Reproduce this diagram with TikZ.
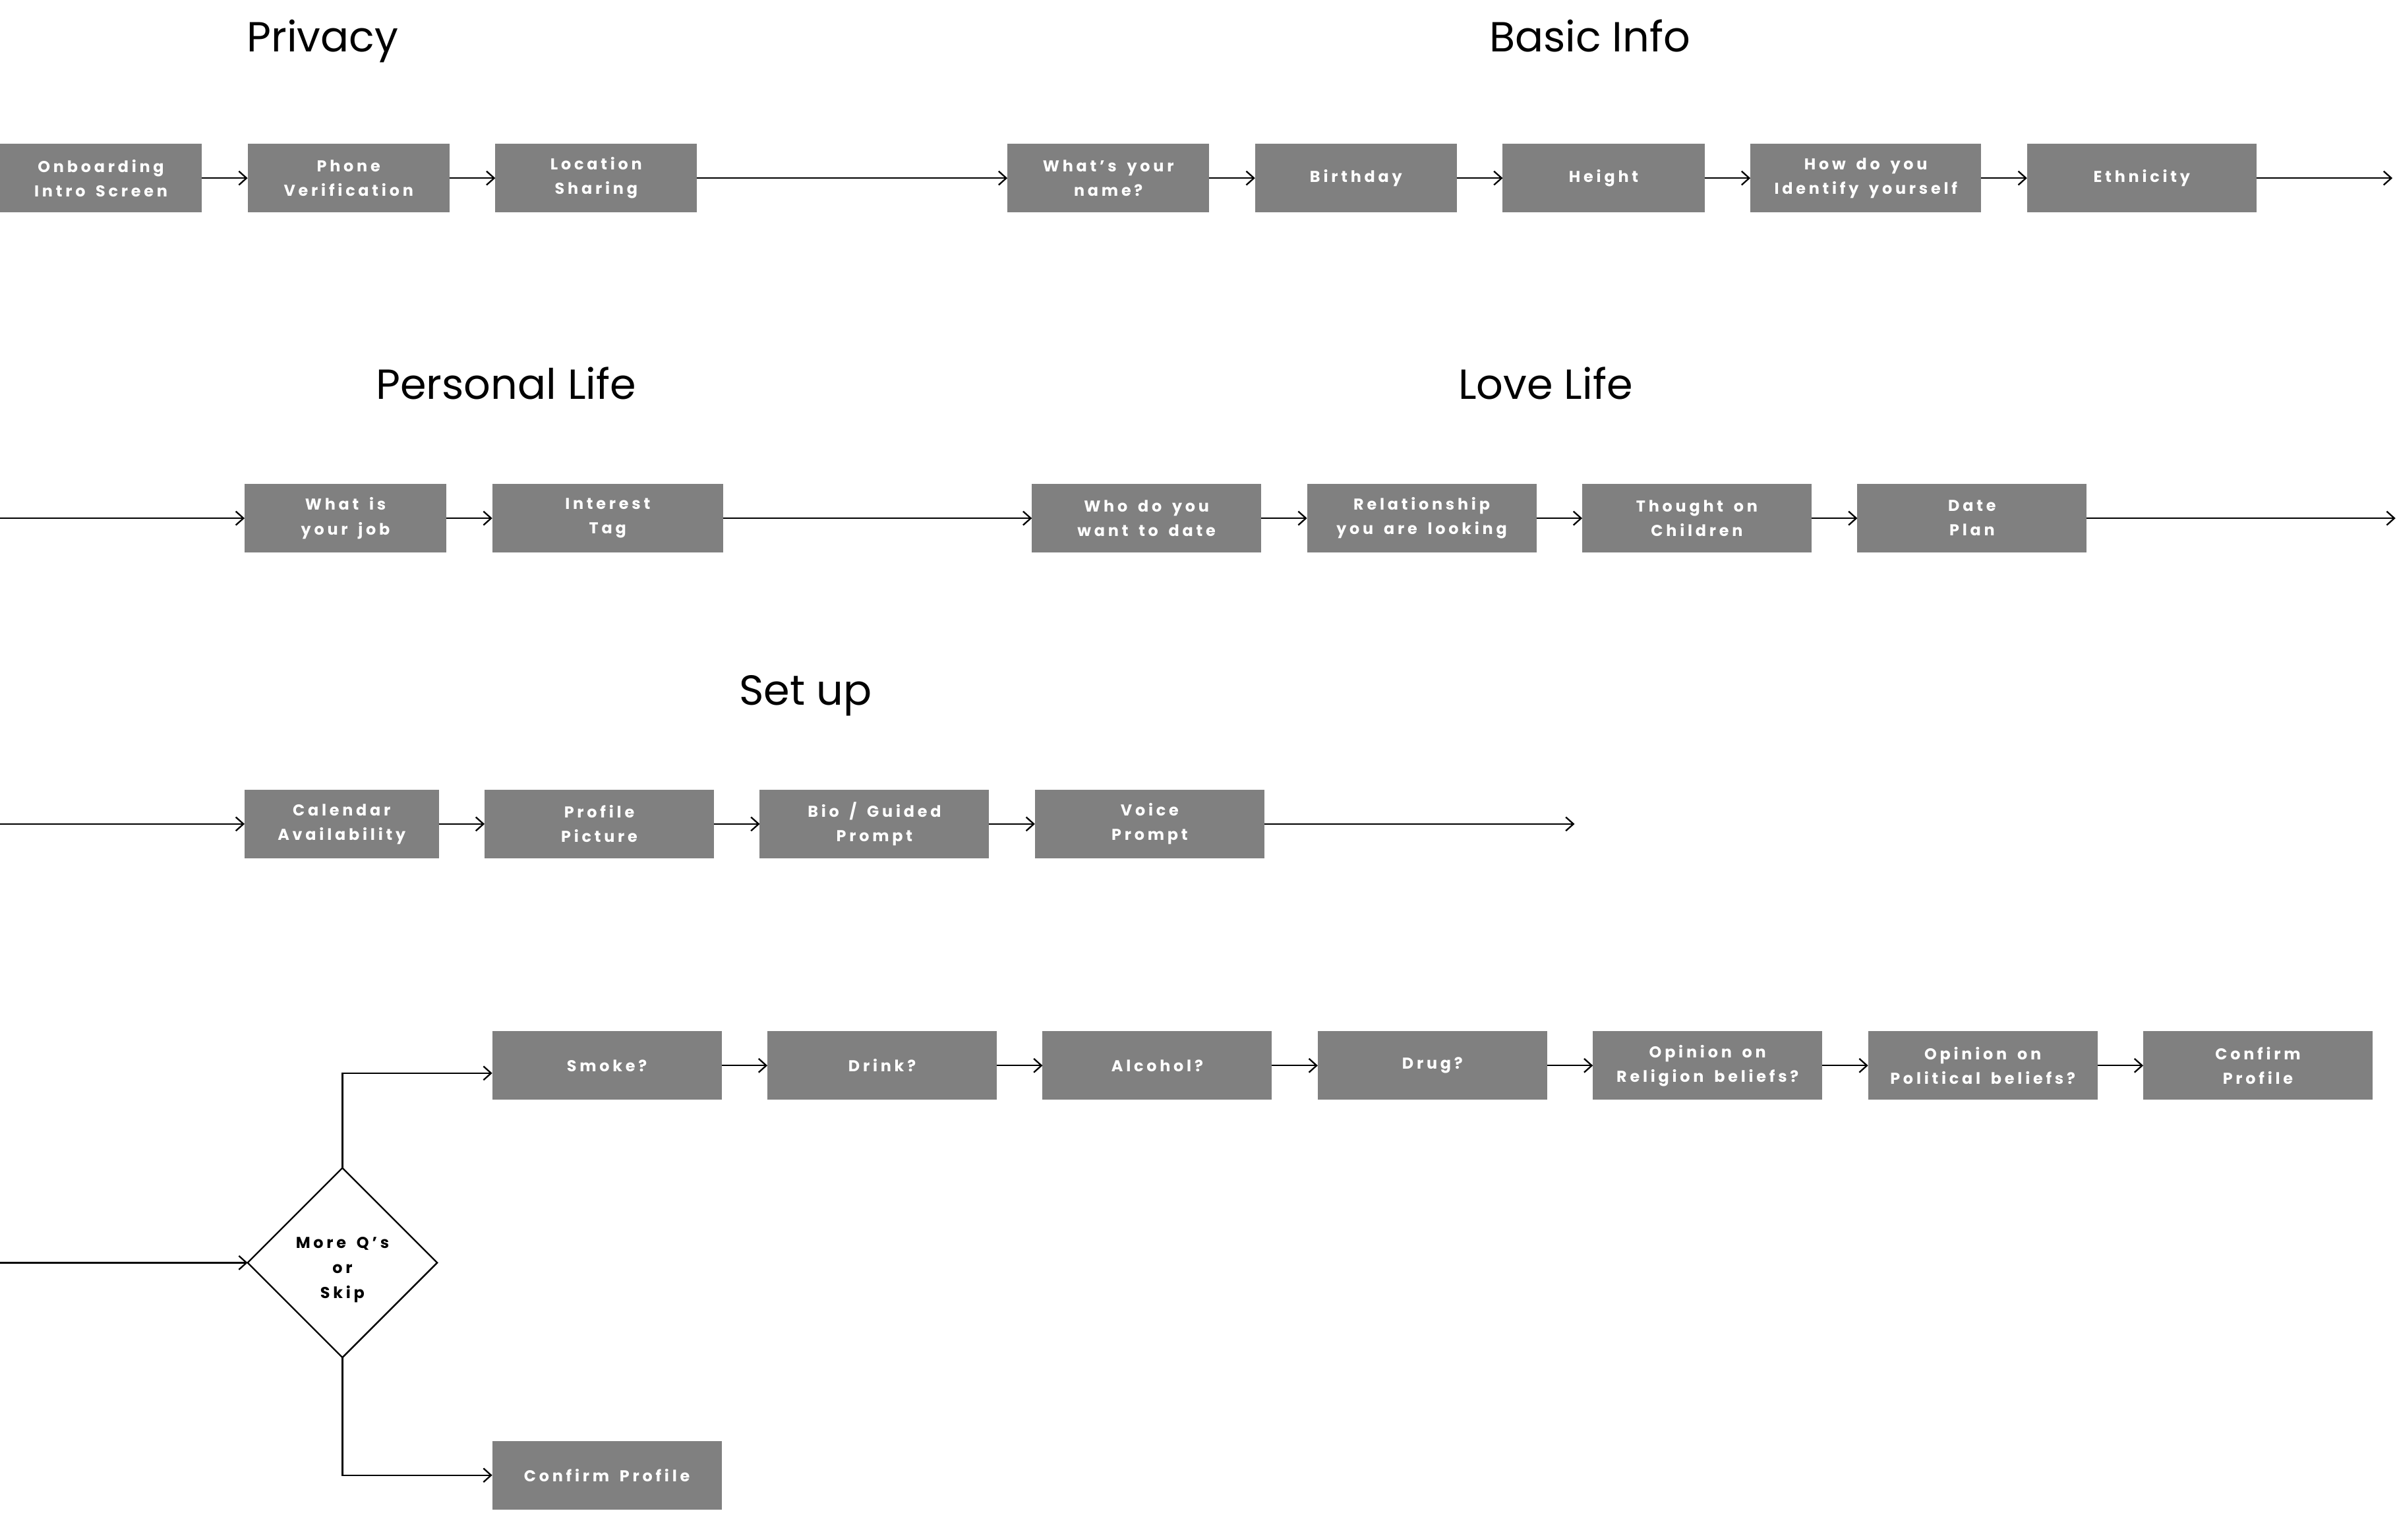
\documentclass[tikz,border=0pt]{standalone}
\usepackage{fontspec}
\setmainfont{Poppins}
\newfontfamily\boxfont[LetterSpace=20,WordSpace=1.6]{Poppins}
\usetikzlibrary{arrows.meta,positioning,shapes.geometric}
\definecolor{boxgray}{HTML}{808080}
\tikzset{
  stepbox/.style={rectangle,fill=boxgray,text=white,minimum width=150pt,minimum height=45pt,
    inner sep=0pt,outer sep=0pt,align=center,font=\boxfont\bfseries\fontsize{10.3}{16}\selectfont},
  narrow/.style={stepbox,minimum width=132pt},
  title/.style={anchor=base,font=\fontsize{27.5}{32}\selectfont},
  choice/.style={diamond,draw,line width=1pt,minimum width=124pt,minimum height=124pt,
    inner sep=0pt,outer sep=0pt,align=center,font=\boxfont\bfseries\fontsize{10.3}{16.5}\selectfont},
  flow/.style={->,>={Straight Barb[length=5pt,width=9pt]},line width=1pt}
}
\begin{document}
\begin{tikzpicture}[x=1pt,y=-1pt,node distance=30pt]
   \useasboundingbox (0,0) rectangle (1568,1007);
   % titles
   \node [title] (privacy) at (211,34) {Privacy};
   \node [title] (basic) at (1040,34) {Basic Info};
   \node [title] (personal) at (331,261) {Personal Life};
   \node [title] (love) at (1011,261) {Love Life};
   \node [title] (setup) at (527,461) {Set up};
   % row 1
   \node [narrow] (onb) at (66,116.5) {Onboarding\\Intro Screen};
   \node [narrow] (phone) [right=of onb] {Phone\\Verification};
   \node [narrow] (loc) [right=of phone] {Location\\Sharing};
   \node [narrow] (name) [right=203pt of loc] {What’s your\\name?};
   \node [narrow] (bday) [right=of name] {Birthday};
   \node [narrow] (height) [right=of bday] {Height};
   \node [stepbox,minimum width=151pt] (ident) [right=of height] {How do you\\Identify yourself};
   \node [stepbox] (eth) [right=of ident] {Ethnicity};
   \coordinate (end1) at (1565,116.5);
   % row 2
   \coordinate (start2) at (0,339);
   \node [narrow] (job) at (226,339) {What is\\your job};
   \node [stepbox,minimum width=151pt] (tag) [right=of job] {Interest\\Tag};
   \node [stepbox] (who) [right=202pt of tag] {Who do you\\want to date};
   \node [stepbox] (rel) [right=of who] {Relationship\\you are looking};
   \node [stepbox] (kids) [right=of rel] {Thought on\\Children};
   \node [stepbox] (plan) [right=of kids] {Date\\Plan};
   \coordinate (end2) at (1567,339);
   % row 3
   \coordinate (start3) at (0,539);
   \node [stepbox,minimum width=127pt] (cal) at (223.5,539) {Calendar\\Availability};
   \node [stepbox] (pic) [right=of cal] {Profile\\Picture};
   \node [stepbox] (bio) [right=of pic] {Bio / Guided\\Prompt};
   \node [stepbox] (voice) [right=of bio] {Voice\\Prompt};
   \coordinate (end3) at (1030,539);
   % row 4
   \coordinate (start4) at (0,826);
   \node [choice] (more) at (224,826) {\mbox{}\\More Q’s\\or\\Skip};
   \node [stepbox] (smoke) at (397,697) {Smoke?};
   \node [stepbox] (drink) [right=of smoke] {Drink?};
   \node [stepbox] (alc) [right=of drink] {Alcohol?};
   \node [stepbox] (drug) [right=of alc] {Drug?};
   \node [stepbox] (relig) [right=of drug] {Opinion on\\Religion beliefs?};
   \node [stepbox] (polit) [right=of relig] {Opinion on\\Political beliefs?};
   \node [stepbox] (conf) [right=of polit] {Confirm\\Profile};
   \node [stepbox] (skipconf) at (397,965) {Confirm Profile};

   \path[flow]
    (onb) edge (phone)
    (phone) edge (loc)
    (loc) edge (name)
    (name) edge (bday)
    (bday) edge (height)
    (height) edge (ident)
    (ident) edge (eth)
    (eth) edge (end1)
    (start2) edge (job)
    (job) edge (tag)
    (tag) edge (who)
    (who) edge (rel)
    (rel) edge (kids)
    (kids) edge (plan)
    (plan) edge (end2)
    (start3) edge (cal)
    (cal) edge (pic)
    (pic) edge (bio)
    (bio) edge (voice)
    (voice) edge (end3)
    (start4) edge (more)
    (smoke) edge (drink)
    (drink) edge (alc)
    (alc) edge (drug)
    (drug) edge (relig)
    (relig) edge (polit)
    (polit) edge (conf);
   \draw[flow] (more.north) |- ([yshift=-5pt]smoke.west);
   \draw[flow] (more.south) |- (skipconf.west);
\end{tikzpicture}
\end{document}
